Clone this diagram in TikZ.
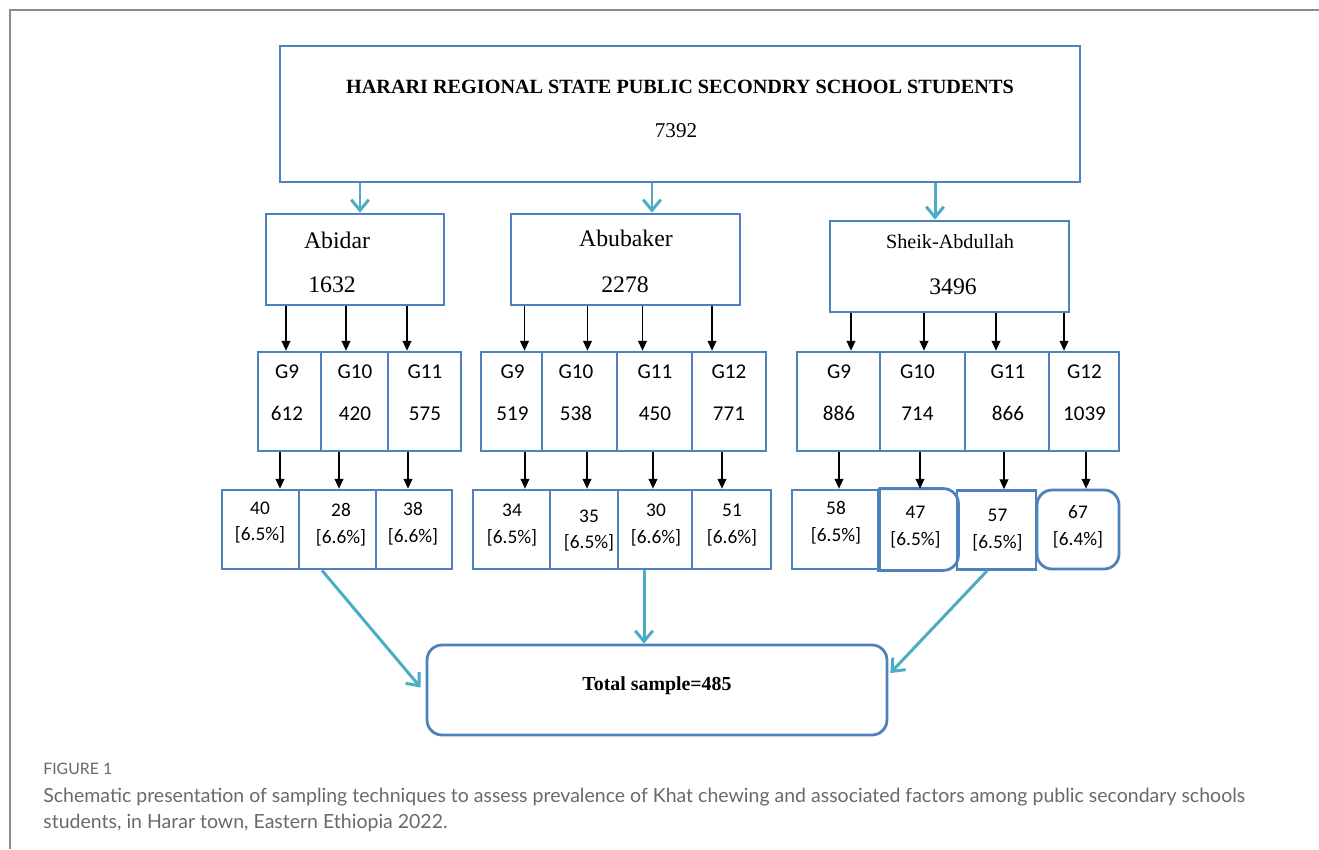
\documentclass[tikz,border=0pt]{standalone}
\usepackage{fontspec}
\setmainfont{Liberation Serif}
\newfontfamily\calibfont{Carlito}
\newfontfamily\capfont{Lato}
\usetikzlibrary{arrows.meta, positioning}

\definecolor{boxblue}{RGB}{79,129,189}
\definecolor{flowteal}{RGB}{75,172,198}
\definecolor{framegray}{RGB}{140,140,140}
\definecolor{capgray}{RGB}{105,105,105}

\tikzset{
  box/.style={draw=boxblue, line width=1.6pt, inner sep=0pt},
  schoolbox/.style={box, minimum height=1.82cm},
  gradebox/.style={box, minimum height=1.98cm},
  samplebox/.style={box, minimum height=1.58cm},
  tealarrow/.style={flowteal, line width=1.7pt, -{Straight Barb[length=6pt,width=10pt]}},
  blackarrow/.style={black, line width=0.6pt, -{Triangle[length=5.5pt,width=5pt]}},
  schooltext/.style={font=\fontsize{13.5}{16}\selectfont},
  gradetext/.style={font=\calibfont\fontsize{12}{24}\selectfont, align=center},
  sampletext/.style={font=\calibfont\fontsize{11}{15.3}\selectfont, align=center},
}

\begin{document}
\begin{tikzpicture}[x=0.02cm, y=-0.02cm]
    \useasboundingbox (0,0) rectangle (1319,849);

    % Frame
    \draw[framegray, line width=1.2pt] (10,849) -- (10,10) -- (1319,10);

    % Top box
    \node[box, minimum width=16cm, minimum height=2.72cm] (top) at (680,114) {};
    \node[font=\bfseries\fontsize{11.5}{14}\selectfont] (title) at (680,87) {HARARI REGIONAL STATE PUBLIC SECONDRY SCHOOL STUDENTS};
    \node[font=\fontsize{12}{14}\selectfont] (topnum) at (676,131) {7392};

    % Schools
    \node[schoolbox, minimum width=3.56cm] (ab) at (355,259.5) {};
    \node[schoolbox, minimum width=4.58cm] (bu) at (625.5,259.5) {};
    \node[schoolbox, minimum width=4.78cm] (sh) at (949.5,266.5) {};
    \node[schooltext] (abname) at (337,240) {Abidar};
    \node[schooltext] (abnum) at (332,285) {1632};
    \node[schooltext] (buname) at (626,238) {Abubaker};
    \node[schooltext] (bunum) at (625,285) {2278};
    \node[font=\fontsize{11.5}{14}\selectfont] (shname) at (950,242) {Sheik-Abdullah};
    \node[schooltext] (shnum) at (953,287) {3496};

    % Top arrows
    \draw[tealarrow] ([xshift=0.1cm]ab.north |- top.south) -- ([xshift=0.1cm]ab.north);
    \draw[tealarrow] ([xshift=0.53cm]bu.north |- top.south) -- ([xshift=0.53cm]bu.north);
    \draw[tealarrow] ([xshift=-0.29cm]sh.north |- top.south) -- ([xshift=-0.29cm]sh.north);

    % Grades
    \node[gradebox, minimum width=1.26cm] (ag9) at (289.5,401.5) {};
    \node[gradebox, minimum width=1.34cm] (ag10) at (354.5,401.5) {};
    \node[gradebox, minimum width=1.46cm] (ag11) at (424.5,401.5) {};
    \node[gradebox, minimum width=1.22cm] (bg9) at (511.5,401.5) {};
    \node[gradebox, minimum width=1.5cm] (bg10) at (579.5,401.5) {};
    \node[gradebox, minimum width=1.5cm] (bg11) at (654.5,401.5) {};
    \node[gradebox, minimum width=1.48cm] (bg12) at (729,401.5) {};
    \node[gradebox, minimum width=1.66cm] (sg9) at (838.5,401.5) {};
    \node[gradebox, minimum width=1.7cm] (sg10) at (922.5,401.5) {};
    \node[gradebox, minimum width=1.68cm] (sg11) at (1007,401.5) {};
    \node[gradebox, minimum width=1.4cm] (sg12) at (1084,401.5) {};

    \node[gradetext] (ag9t) at (287,393) {G9\\612};
    \node[gradetext] (ag10t) at (355,393) {G10\\420};
    \node[gradetext] (ag11t) at (425,393) {G11\\575};
    \node[gradetext] (bg9t) at (512.5,393) {G9\\519};
    \node[gradetext] (bg10t) at (576,393) {G10\\538};
    \node[gradetext] (bg11t) at (655,393) {G11\\450};
    \node[gradetext] (bg12t) at (729,393) {G12\\771};
    \node[gradetext] (sg9t) at (839,393) {G9\\886};
    \node[gradetext] (sg10t) at (917.5,393) {G10\\714};
    \node[gradetext] (sg11t) at (1008,393) {G11\\866};
    \node[gradetext] (sg12t) at (1084.5,393) {G12\\1039};

    % School to grade arrows
    \draw[blackarrow] ([xshift=-0.07cm]ag9.north |- ab.south) -- ([xshift=-0.07cm]ag9.north);
    \draw[blackarrow] ([xshift=-0.17cm]ag10.north |- ab.south) -- ([xshift=-0.17cm]ag10.north);
    \draw[blackarrow] ([xshift=-0.35cm]ag11.north |- ab.south) -- ([xshift=-0.35cm]ag11.north);
    \draw[blackarrow] ([xshift=0.26cm]bg9.north |- bu.south) -- ([xshift=0.26cm]bg9.north);
    \draw[blackarrow] ([xshift=0.16cm]bg10.north |- bu.south) -- ([xshift=0.16cm]bg10.north);
    \draw[blackarrow] ([xshift=-0.24cm]bg11.north |- bu.south) -- ([xshift=-0.24cm]bg11.north);
    \draw[blackarrow] ([xshift=-0.34cm]bg12.north |- bu.south) -- ([xshift=-0.34cm]bg12.north);
    \draw[blackarrow] ([xshift=0.25cm]sg9.north |- sh.south) -- ([xshift=0.25cm]sg9.north);
    \draw[blackarrow] ([xshift=0.03cm]sg10.north |- sh.south) -- ([xshift=0.03cm]sg10.north);
    \draw[blackarrow] ([xshift=-0.22cm]sg11.north |- sh.south) -- ([xshift=-0.22cm]sg11.north);
    \draw[blackarrow] ([xshift=-0.4cm]sg12.north |- sh.south) -- ([xshift=-0.4cm]sg12.north);

    % Samples
    \node[samplebox, minimum width=1.54cm] (as9) at (260.5,529.5) {};
    \node[samplebox, minimum width=1.54cm] (as10) at (337.5,529.5) {};
    \node[samplebox, minimum width=1.52cm] (as11) at (414,529.5) {};
    \node[samplebox, minimum width=1.54cm] (bs9) at (511.5,529.5) {};
    \node[samplebox, minimum width=1.36cm] (bs10) at (584,529.5) {};
    \node[samplebox, minimum width=1.48cm] (bs11) at (655,529.5) {};
    \node[samplebox, minimum width=1.58cm] (bs12) at (731.5,529.5) {};
    \node[samplebox, minimum width=1.76cm] (ss9) at (836,529.5) {};
    \node[samplebox, draw=none, minimum width=1.54cm] (ss10) at (918.5,529.5) {};
    \draw[boxblue, line width=1.6pt] (ss10.north west) [rounded corners=0.3cm] -- (ss10.north east) -- (ss10.south east) [sharp corners] -- (ss10.south west) -- (ss10.north west);
    \node[samplebox, minimum width=1.58cm] (ss11) at (996.5,530) {};
    \node[samplebox, rounded corners=0.3cm, minimum width=1.64cm] (ss12) at (1078,529.5) {};

    \node[sampletext] (as9t) at (260,522.5) {40\\{}[6.5\%]};
    \node[sampletext] (as10t) at (341,525) {28\\{}[6.6\%]};
    \node[sampletext] (as11t) at (413,524) {38\\{}[6.6\%]};
    \node[sampletext] (bs9t) at (512,525) {34\\{}[6.5\%]};
    \node[sampletext] (bs10t) at (589,530.5) {35\\{}[6.5\%]};
    \node[sampletext] (bs11t) at (656,525) {30\\{}[6.6\%]};
    \node[sampletext] (bs12t) at (732,525) {51\\{}[6.6\%]};
    \node[sampletext] (ss9t) at (836,522.5) {58\\{}[6.5\%]};
    \node[sampletext] (ss10t) at (915.5,527) {47\\{}[6.5\%]};
    \node[sampletext] (ss11t) at (997.5,530) {57\\{}[6.5\%]};
    \node[sampletext] (ss12t) at (1078,527) {67\\{}[6.4\%]};

    % Grade to sample arrows
    \draw[blackarrow] ([xshift=0.39cm]as9.north |- ag9.south) -- ([xshift=0.39cm]as9.north);
    \draw[blackarrow] ([xshift=0.03cm]as10.north |- ag10.south) -- ([xshift=0.03cm]as10.north);
    \draw[blackarrow] ([xshift=-0.12cm]as11.north |- ag11.south) -- ([xshift=-0.12cm]as11.north);
    \draw[blackarrow] ([xshift=0.27cm]bs9.north |- bg9.south) -- ([xshift=0.27cm]bs9.north);
    \draw[blackarrow] ([xshift=0.06cm]bs10.north |- bg10.south) -- ([xshift=0.06cm]bs10.north);
    \draw[blackarrow] ([xshift=-0.04cm]bs11.north |- bg11.south) -- ([xshift=-0.04cm]bs11.north);
    \draw[blackarrow] ([xshift=-0.19cm]bs12.north |- bg12.south) -- ([xshift=-0.19cm]bs12.north);
    \draw[blackarrow] ([xshift=0.06cm]ss9.north |- sg9.south) -- ([xshift=0.06cm]ss9.north);
    \draw[blackarrow] ([xshift=0.03cm]ss10.north |- sg10.south) -- ([xshift=0.03cm]ss10.north);
    \draw[blackarrow] ([xshift=0.15cm]ss11.north |- sg11.south) -- ([xshift=0.15cm]ss11.north);
    \draw[blackarrow] ([xshift=0.16cm]ss12.north |- sg12.south) -- ([xshift=0.16cm]ss12.north);

    % Total
    \node[box, rounded corners=0.3cm, minimum width=9.2cm, minimum height=1.8cm] (tot) at (657,690) {};
    \node[font=\bfseries\fontsize{11.3}{14}\selectfont] (totlabel) at (657,686) {Total sample=485};

    % Sample to total arrows
    \draw[tealarrow] ([xshift=-0.31cm]as10.south) -- ([xshift=-0.1cm,yshift=0.05cm]tot.west);
    \draw[tealarrow] ([xshift=-0.22cm]bs11.south) -- ([xshift=-0.22cm]bs11.south |- tot.north);
    \draw[tealarrow] ([xshift=-0.19cm]ss11.south) -- ([xshift=0.04cm,yshift=0.34cm]tot.east);

    % Caption
    \node[font=\capfont\fontsize{9}{10}\selectfont, text=capgray, anchor=west, inner sep=0pt] (figlabel) at (43,769) {FIGURE 1};
    \node[font=\capfont\fontsize{11.1}{15.3}\selectfont, text=capgray, anchor=west, align=left, inner sep=0pt] (caption) at (43,810) {Schematic presentation of sampling techniques to assess prevalence of Khat chewing and associated factors among public secondary schools\\students, in Harar town, Eastern Ethiopia 2022.};
\end{tikzpicture}
\end{document}
